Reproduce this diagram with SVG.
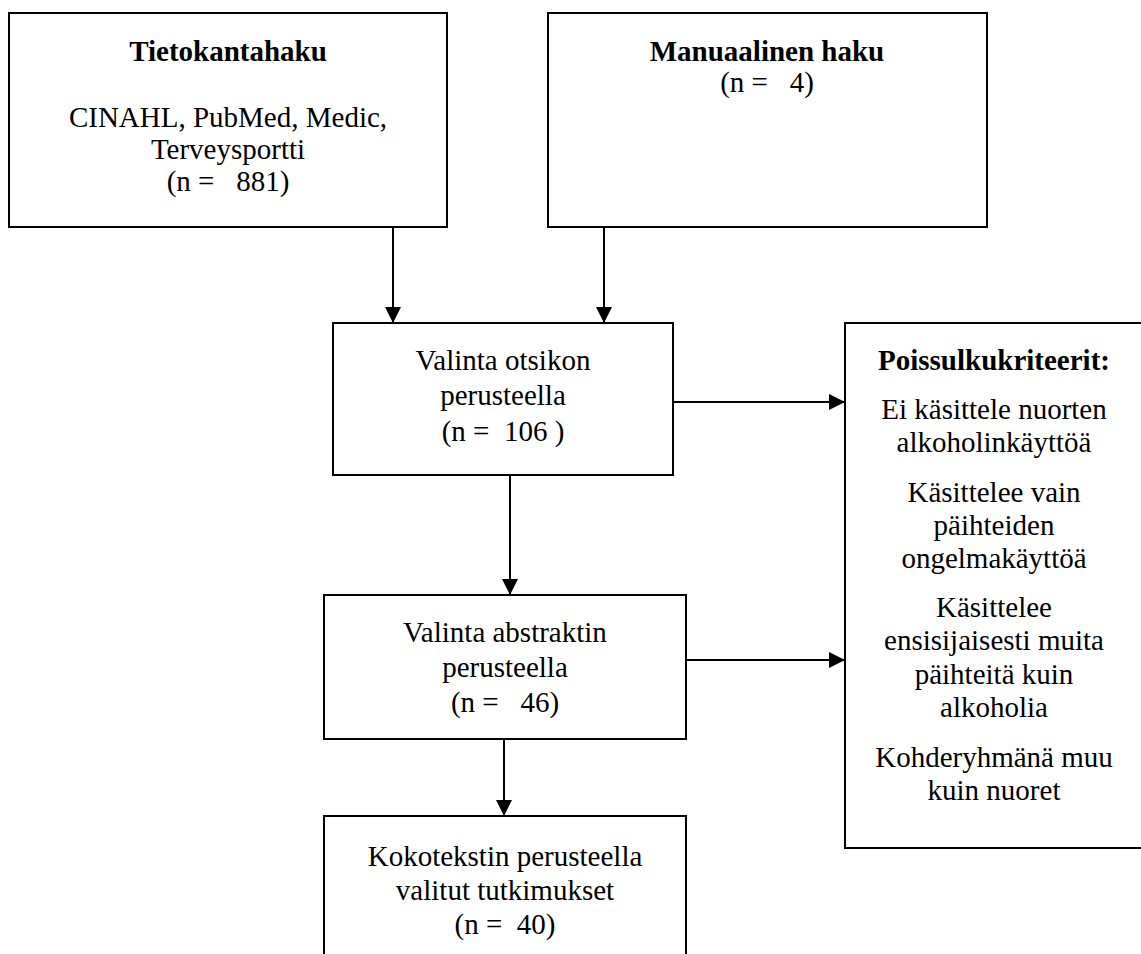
<svg xmlns="http://www.w3.org/2000/svg" width="1141" height="954" viewBox="0 0 1141 954">
<style>
.box{fill:#fff;stroke:#000;stroke-width:2}
.t{font-family:'Liberation Serif','DejaVu Serif',serif;font-size:29px;fill:#000;text-anchor:middle;white-space:pre}
.b{font-weight:bold}
.c{stroke:#000;stroke-width:2;fill:none;marker-end:url(#ah)}
</style>
<defs>
<marker id="ah" viewBox="0 0 16 16" refX="16" refY="8" markerWidth="16" markerHeight="16" markerUnits="userSpaceOnUse" orient="auto">
<path d="M0,0 L16,8 L0,16 Z" fill="#000"/>
</marker>
</defs>
<rect width="1141" height="954" fill="#fff"/>
<g id="connectors">
<line class="c" x1="393" y1="227" x2="393" y2="323"/>
<line class="c" x1="604" y1="227" x2="604" y2="323"/>
<line class="c" x1="673" y1="402" x2="845" y2="402"/>
<line class="c" x1="510" y1="475" x2="510" y2="595"/>
<line class="c" x1="686" y1="660" x2="845" y2="660"/>
<line class="c" x1="504" y1="739" x2="504" y2="816"/>
</g>
<g id="tietokantahaku">
<rect class="box" x="9" y="13" width="438" height="214"/>
<text class="t b" x="228" y="61">Tietokantahaku</text>
<text class="t" x="228" y="127">CINAHL, PubMed, Medic,</text>
<text class="t" x="228" y="159">Terveysportti</text>
<text class="t" x="228" y="191">(n =   881)</text>
</g>
<g id="manuaalinen">
<rect class="box" x="548" y="13" width="439" height="214"/>
<text class="t b" x="767" y="61">Manuaalinen haku</text>
<text class="t" x="767" y="92">(n =   4)</text>
</g>
<g id="otsikko">
<rect class="box" x="333" y="323" width="340" height="152"/>
<text class="t" x="503" y="370">Valinta otsikon</text>
<text class="t" x="503" y="405">perusteella</text>
<text class="t" x="503" y="441">(n =  106 )</text>
</g>
<g id="abstrakti">
<rect class="box" x="324" y="595" width="362" height="144"/>
<text class="t" x="505" y="642">Valinta abstraktin</text>
<text class="t" x="505" y="677">perusteella</text>
<text class="t" x="505" y="712">(n =   46)</text>
</g>
<g id="kokoteksti">
<rect class="box" x="324" y="816" width="362" height="160"/>
<text class="t" x="505" y="866">Kokotekstin perusteella</text>
<text class="t" x="505" y="900">valitut tutkimukset</text>
<text class="t" x="505" y="934">(n =  40)</text>
</g>
<g id="poissulku">
<rect class="box" x="845" y="323" width="310" height="525"/>
<text class="t b" x="994" y="370">Poissulkukriteerit:</text>
<text class="t" x="994" y="419">Ei käsittele nuorten</text>
<text class="t" x="994" y="452">alkoholinkäyttöä</text>
<text class="t" x="994" y="502">Käsittelee vain</text>
<text class="t" x="994" y="535">päihteiden</text>
<text class="t" x="994" y="568">ongelmakäyttöä</text>
<text class="t" x="994" y="617">Käsittelee</text>
<text class="t" x="994" y="650">ensisijaisesti muita</text>
<text class="t" x="994" y="684">päihteitä kuin</text>
<text class="t" x="994" y="717">alkoholia</text>
<text class="t" x="994" y="767">Kohderyhmänä muu</text>
<text class="t" x="994" y="800">kuin nuoret</text>
</g>
</svg>
